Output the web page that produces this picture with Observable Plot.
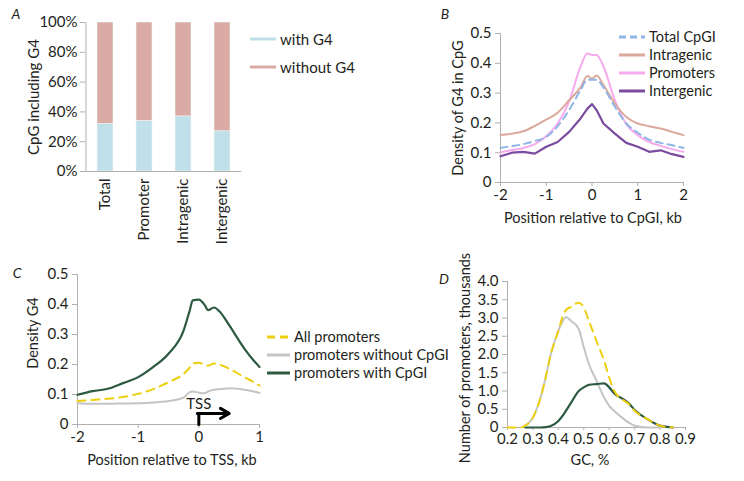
<!DOCTYPE html>
<html><head><meta charset="utf-8">
<script src="https://cdn.jsdelivr.net/npm/d3@7"></script>
<script src="https://cdn.jsdelivr.net/npm/@observablehq/plot@0.6"></script>
<style>
body{margin:0;background:#fff;font-family:Lato,sans-serif;color:#231f20}
#wrap{position:relative;width:744px;height:481px;overflow:hidden;background:#fff}
#wrap > svg{position:absolute}
.lbl{position:absolute;white-space:nowrap;font-size:14px;line-height:1}
.rot{transform:translate(-50%,-50%) rotate(-90deg)}
.hz{transform:translate(-50%,-50%)}
.letter{font-style:italic;font-size:14px;transform:translate(-50%,-50%)}
.leg{position:absolute;font-size:14px;line-height:1}
.leg .row{display:flex;align-items:center;white-space:nowrap}
.leg svg{margin-right:4px;flex:none}
</style>
</head><body><div id="wrap"></div>
<script>
// ---------- Panel A ----------
const aCategories = ["Total", "Promoter", "Intragenic", "Intergenic"];
const aWithG4 = [32, 34, 37, 27];
const aWithoutG4 = [68, 66, 63, 73];
const aGroups = ["with G4", "without G4"];
const aColors = ["#bfe0e9", "#d9aba4"];
const aYTicks = [0, 20, 40, 60, 80, 100];

// ---------- Panel B ----------
const bX = [-2, -1.75, -1.5, -1.25, -1, -0.75, -0.5, -0.25, -0.1, 0, 0.1, 0.25, 0.5, 0.75, 1, 1.25, 1.5, 1.75, 2];
const bTotal = [0.116, 0.122, 0.129, 0.139, 0.153, 0.189, 0.243, 0.31, 0.345, 0.345, 0.345, 0.319, 0.254, 0.198, 0.167, 0.144, 0.133, 0.125, 0.116];
const bIntragenic = [0.159, 0.164, 0.172, 0.19, 0.211, 0.234, 0.276, 0.319, 0.357, 0.349, 0.359, 0.327, 0.265, 0.22, 0.198, 0.189, 0.181, 0.17, 0.159];
const bPromoters = [0.101, 0.109, 0.116, 0.129, 0.155, 0.198, 0.271, 0.39, 0.433, 0.428, 0.428, 0.39, 0.276, 0.196, 0.159, 0.136, 0.123, 0.112, 0.103];
const bIntergenic = [0.088, 0.1, 0.103, 0.097, 0.12, 0.136, 0.17, 0.215, 0.248, 0.263, 0.243, 0.198, 0.164, 0.133, 0.12, 0.103, 0.108, 0.095, 0.086];
const bNames = ["Total CpGI", "Intragenic", "Promoters", "Intergenic"];
const bColors = ["#8fb4e6", "#dba89c", "#f5aaee", "#7a4b9e"];
const bXTicks = [-2, -1, 0, 1, 2];
const bYTicks = [0, 0.1, 0.2, 0.3, 0.4, 0.5];

// ---------- Panel C ----------
const cX = [-2, -1.75, -1.5, -1.25, -1, -0.75, -0.5, -0.25, -0.15, -0.1, 0, 0.1, 0.15, 0.25, 0.35, 0.5, 0.75, 0.9, 1];
const cAll = [0.078, 0.082, 0.086, 0.092, 0.102, 0.118, 0.141, 0.169, 0.19, 0.203, 0.206, 0.199, 0.196, 0.203, 0.199, 0.186, 0.158, 0.142, 0.13];
const cWithout = [0.071, 0.069, 0.069, 0.07, 0.071, 0.073, 0.078, 0.09, 0.108, 0.11, 0.106, 0.104, 0.11, 0.116, 0.118, 0.121, 0.116, 0.11, 0.105];
const cWith = [0.099, 0.111, 0.119, 0.138, 0.158, 0.192, 0.236, 0.314, 0.38, 0.414, 0.416, 0.397, 0.381, 0.39, 0.375, 0.331, 0.253, 0.214, 0.192];
const cNames = ["All promoters", "promoters without CpGI", "promoters with CpGI"];
const cColors = ["#eecf10", "#c4c4c4", "#2c5a41"];
const cXTicks = [-2, -1, 0, 1];
const cYTicks = [0, 0.1, 0.2, 0.3, 0.4, 0.5];
const tssArrowX = [0, 0.5];
const tssArrowY = [0, 0.037];
const tssLabel = "TSS";
const tssLabelY = 0.068;

// ---------- Panel D ----------
const dX = [0.2, 0.25, 0.27, 0.3, 0.33, 0.35, 0.37, 0.4, 0.42, 0.43, 0.45, 0.48, 0.5, 0.52, 0.55, 0.58, 0.6, 0.62, 0.65, 0.68, 0.7, 0.75, 0.78, 0.8, 0.85, 0.9];
const dAll = [0, 0, 0.05, 0.27, 0.82, 1.37, 2.0, 2.65, 3.1, 3.22, 3.3, 3.42, 3.29, 2.92, 2.37, 1.83, 1.37, 1.0, 0.78, 0.62, 0.46, 0.23, 0.11, 0.05, 0, null];
const dWithout = [null, null, 0.05, 0.27, 0.82, 1.37, 2.0, 2.65, 2.95, 3.03, 2.92, 2.7, 2.2, 1.74, 1.28, 0.82, 0.59, 0.45, 0.27, 0.12, 0.05, 0, 0, 0, null, null];
const dWith = [null, null, 0, 0, 0, 0.01, 0.04, 0.18, 0.35, 0.46, 0.68, 1.0, 1.1, 1.17, 1.19, 1.21, 1.1, 0.93, 0.8, 0.64, 0.48, 0.23, 0.11, 0.05, 0, null];
const dXTicks = [0.2, 0.3, 0.4, 0.5, 0.6, 0.7, 0.8, 0.9];
const dYTicks = [0, 0.5, 1, 1.5, 2, 2.5, 3, 3.5, 4];

const axisGray = "#b0b0b0";
const textColor = "#231f20";
const font = "Lato, sans-serif";
const wrap = document.getElementById("wrap");

function place(svg, left, top) {
  svg.style.left = left + "px";
  svg.style.top = top + "px";
  wrap.appendChild(svg);
}
function label(text, x, y, cls, size) {
  const d = document.createElement("div");
  d.className = "lbl " + cls;
  d.textContent = text;
  d.style.left = x + "px";
  d.style.top = y + "px";
  if (size) d.style.fontSize = size + "px";
  wrap.appendChild(d);
}
function legend(items, colors, dashes, x, y, rowH, swW, size) {
  const box = document.createElement("div");
  box.className = "leg";
  box.style.left = x + "px";
  box.style.top = y + "px";
  box.style.fontSize = size + "px";
  items.forEach((t, i) => {
    const r = document.createElement("div");
    r.className = "row";
    r.style.height = rowH + "px";
    const s = d3.create("svg").attr("width", swW).attr("height", 6);
    s.append("line").attr("x1", 0).attr("x2", swW).attr("y1", 3).attr("y2", 3)
      .attr("stroke", colors[i]).attr("stroke-width", 3)
      .attr("stroke-dasharray", dashes[i] || null);
    r.appendChild(s.node());
    const sp = document.createElement("span");
    sp.textContent = t;
    r.appendChild(sp);
    box.appendChild(r);
  });
  wrap.appendChild(box);
}
const style = {fontFamily: font, fontSize: "15px", color: textColor, background: "transparent", overflow: "visible"};
const fmt1 = d => d === 0 ? "0" : String(d);
const fmtD = d => d === 0 ? "0" : d.toFixed(1);

// ===== A =====
const aRows = [];
aCategories.forEach((c, i) => {
  aRows.push({cat: c, group: aGroups[0], value: aWithG4[i]});
  aRows.push({cat: c, group: aGroups[1], value: aWithoutG4[i]});
});
const plotA = Plot.plot({
  width: 250, height: 240,
  marginLeft: 85, marginRight: 9, marginTop: 22, marginBottom: 69,
  style: {...style, fontSize: "15px"},
  x: {domain: aCategories, paddingInner: 0.6, paddingOuter: 0.3, label: null},
  y: {domain: [0, 100], label: null},
  color: {domain: aGroups, range: aColors},
  marks: [
    Plot.barY(aRows, {x: "cat", y: "value", fill: "group", stroke: "#f4f4f4", strokeWidth: 0.6}),
    Plot.ruleY([aYTicks[0]], {stroke: axisGray}),
    Plot.ruleX([aCategories[0]], {x: () => aCategories[0], dx: -19.5, stroke: axisGray}),
    Plot.axisY({ticks: aYTicks, tickFormat: d => d + "%", tickSize: 5, tickPadding: 3, stroke: axisGray, fill: textColor, label: null}),
    Plot.axisX({tickRotate: -90, tickSize: 0, tickPadding: 7, fill: textColor, label: null})
  ]
});
place(plotA, 0, 0);
legend(aGroups, aColors, [], 250, 25, 28, 26, 15);
label("CpG including G4", 33, 97, "rot", 15);
label("A", 16, 14, "letter");

// ===== B =====
const bSeries = [bTotal, bIntragenic, bPromoters, bIntergenic];
const bRows = s => bX.map((x, i) => ({x, y: bSeries[s][i]}));
const plotB = Plot.plot({
  width: 304, height: 230,
  marginLeft: 60, marginRight: 61, marginTop: 33, marginBottom: 48,
  style,
  x: {domain: [bXTicks[0], bXTicks[bXTicks.length - 1]], label: null},
  y: {domain: [bYTicks[0], bYTicks[bYTicks.length - 1]], label: null},
  marks: [
    Plot.ruleY([bYTicks[0]], {stroke: axisGray}),
    Plot.ruleX([bXTicks[0]], {stroke: axisGray}),
    Plot.axisY({ticks: bYTicks, tickFormat: fmt1, tickSize: 5, tickPadding: 4, stroke: axisGray, fill: textColor, label: null}),
    Plot.axisX({ticks: bXTicks, tickFormat: d => String(d), tickSize: 4, tickPadding: 3, stroke: axisGray, fill: textColor, label: null}),
    Plot.line(bRows(2), {x: "x", y: "y", stroke: bColors[2], strokeWidth: 2, curve: "monotone-x"}),
    Plot.line(bRows(1), {x: "x", y: "y", stroke: bColors[1], strokeWidth: 2, curve: "monotone-x"}),
    Plot.line(bRows(0), {x: "x", y: "y", stroke: bColors[0], strokeWidth: 2, strokeDasharray: "7,5", curve: "monotone-x"}),
    Plot.line(bRows(3), {x: "x", y: "y", stroke: bColors[3], strokeWidth: 2.2, curve: "linear"})
  ]
});
place(plotB, 440, 0);
legend(bNames, bColors, ["7,4"], 619, 28, 18, 26, 14.5);
label("Density of G4 in CpG", 458, 108, "rot", 14.5);
label("Position relative to CpGI, kb", 593, 218, "hz", 14.5);
label("B", 445, 14, "letter");

// ===== C =====
const cSeries = [cAll, cWithout, cWith];
const cRows = s => cX.map((x, i) => ({x, y: cSeries[s][i]}));
const plotC = Plot.plot({
  width: 270, height: 210,
  marginLeft: 77, marginRight: 11, marginTop: 34, marginBottom: 26,
  style,
  x: {domain: [cXTicks[0], cXTicks[cXTicks.length - 1]], label: null},
  y: {domain: [cYTicks[0], cYTicks[cYTicks.length - 1]], label: null},
  marks: [
    Plot.ruleY([cYTicks[0]], {stroke: axisGray}),
    Plot.ruleX([cXTicks[0]], {stroke: axisGray}),
    Plot.axisY({ticks: cYTicks, tickFormat: fmt1, tickSize: 5, tickPadding: 4, stroke: axisGray, fill: textColor, label: null}),
    Plot.axisX({ticks: cXTicks, tickFormat: d => String(d), tickSize: 4, tickPadding: 3, stroke: axisGray, fill: textColor, label: null}),
    Plot.line(cRows(1), {x: "x", y: "y", stroke: cColors[1], strokeWidth: 2, curve: "monotone-x"}),
    Plot.line(cRows(0), {x: "x", y: "y", stroke: cColors[0], strokeWidth: 2, strokeDasharray: "8,6", curve: "monotone-x"}),
    Plot.line(cRows(2), {x: "x", y: "y", stroke: cColors[2], strokeWidth: 2.2, curve: "monotone-x"}),
    Plot.line([{x: tssArrowX[0], y: tssArrowY[0]}, {x: tssArrowX[0], y: tssArrowY[1]}], {x: "x", y: "y", stroke: "#000", strokeWidth: 3}),
    Plot.arrow([{x1: tssArrowX[0], y1: tssArrowY[1], x2: tssArrowX[1], y2: tssArrowY[1]}], {x1: "x1", y1: "y1", x2: "x2", y2: "y2", stroke: "#000", strokeWidth: 3, headLength: 10, insetStart: -1.5}),
    Plot.text([tssLabel], {x: tssArrowX[0], y: tssLabelY, text: d => d, fill: textColor, fontSize: 15})
  ]
});
place(plotC, 0, 240);
legend(cNames, cColors, ["8,5"], 267, 328, 18, 23, 14.5);
label("Density G4", 33, 333, "rot", 14.5);
label("Position relative to TSS, kb", 172, 460, "hz", 14.5);
label("C", 17, 273, "letter");

// ===== D =====
const dSeries = [dAll, dWithout, dWith];
const dRows = s => dX.map((x, i) => ({x, y: dSeries[s][i]}));
const plotD = Plot.plot({
  width: 304, height: 220,
  marginLeft: 67, marginRight: 59, marginTop: 31, marginBottom: 43,
  style,
  x: {domain: [dXTicks[0], dXTicks[dXTicks.length - 1]], label: null},
  y: {domain: [dYTicks[0], dYTicks[dYTicks.length - 1]], label: null},
  marks: [
    Plot.ruleY([dYTicks[0]], {stroke: axisGray}),
    Plot.ruleX([dXTicks[0]], {stroke: axisGray}),
    Plot.axisY({ticks: dYTicks, tickFormat: fmtD, tickSize: 5, tickPadding: 4, stroke: axisGray, fill: textColor, label: null}),
    Plot.axisX({ticks: dXTicks, tickFormat: d => d.toFixed(1), tickSize: 3, tickPadding: 3, stroke: axisGray, fill: textColor, label: null}),
    Plot.line(dRows(1), {x: "x", y: "y", stroke: cColors[1], strokeWidth: 2, curve: "monotone-x"}),
    Plot.line(dRows(2), {x: "x", y: "y", stroke: cColors[2], strokeWidth: 2.2, curve: "monotone-x"}),
    Plot.line(dRows(0), {x: "x", y: "y", stroke: cColors[0], strokeWidth: 2, strokeDasharray: "8,6", curve: "monotone-x"})
  ]
});
place(plotD, 440, 250);
label("Number of promoters, thousands", 465, 358, "rot", 14.5);
label("GC, %", 590, 460, "hz", 14.5);
label("D", 444, 279, "letter");
</script>
</body></html>
